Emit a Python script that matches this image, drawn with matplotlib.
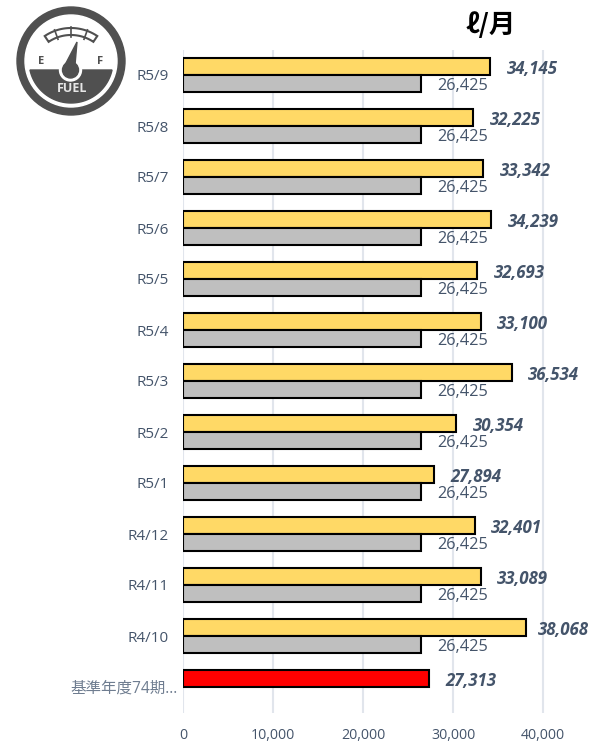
import matplotlib
matplotlib.use('Agg')
import matplotlib.pyplot as plt
import numpy as np
from matplotlib.patches import Circle, Polygon

months = ['R5/9', 'R5/8', 'R5/7', 'R5/6', 'R5/5', 'R5/4', 'R5/3', 'R5/2', 'R5/1',
          'R4/12', 'R4/11', 'R4/10']
base_label = '基準年度74期...'
usage = [34145, 32225, 33342, 34239, 32693, 33100, 36534, 30354, 27894, 32401, 33089, 38068]
target = [26425] * 12
base_usage = 27313

TEXT = '#44546A'
FONT = ['Open Sans', 'Noto Sans CJK JP', 'DejaVu Sans']
plt.rcParams['font.family'] = FONT

W, H = 590, 750
fig = plt.figure(figsize=(W / 100, H / 100), dpi=100)
ax = fig.add_axes([183 / W, 1 - 712.5 / H, (590 - 183) / W, 663 / H])

pos = np.arange(len(months))
ax.barh(pos - 1 / 6, usage, height=1 / 3, color='#FFD966', edgecolor='black', linewidth=1.5, zorder=3)
ax.barh(pos + 1 / 6, target, height=1 / 3, color='#BFBFBF', edgecolor='black', linewidth=1.5, zorder=3)
ax.barh(len(months) - 1 / 6, base_usage, height=1 / 3, color='#FF0000', edgecolor='black', linewidth=1.5, zorder=3)

ax.set_ylim(len(months) + 0.5, -0.5)
ax.set_xlim(0, 407 / 90 * 10000)
ax.set_xticks([0, 10000, 20000, 30000, 40000])
ax.set_xticklabels(['0', '10,000', '20,000', '30,000', '40,000'], fontsize=10.2, color=TEXT)
ax.set_yticks(np.arange(len(months) + 1))
ax.set_yticklabels(months + [base_label], fontsize=11, color=TEXT)
ax.get_yticklabels()[-1].set_color('#6F7D90')
ax.get_yticklabels()[-1].set_fontsize(11.2)
ax.tick_params(length=0)
ax.tick_params(axis='x', pad=11)
ax.tick_params(axis='y', pad=10)
ax.yaxis.get_major_ticks()[-1].set_pad(4)
ax.grid(axis='x', color='#E1E5EC', linewidth=1.5, zorder=0)
ax.set_axisbelow(True)
for s in ax.spines.values():
    s.set_visible(False)

for i, v in enumerate(usage):
    # the longest bar's label sits closer so it stays inside the picture
    dx = 8.6 if v == max(usage) else 11.8
    ax.annotate(f'{v:,}', (v, i - 1 / 6), xytext=(dx, -2), textcoords='offset points', va='center',
                fontsize=12.2, fontweight='bold', fontstyle='italic', color=TEXT, zorder=5)
for i, v in enumerate(target):
    ax.annotate(f'{v:,}', (v, i + 1 / 6), xytext=(11.5, -2), textcoords='offset points', va='center',
                fontsize=11.8, color=TEXT, zorder=5)
ax.annotate(f'{base_usage:,}', (base_usage, len(months) - 1 / 6), xytext=(11.8, -2), textcoords='offset points',
            va='center', fontsize=12.2, fontweight='bold', fontstyle='italic', color=TEXT, zorder=5)

fig.text(491 / W, 1 - 25 / H, 'ℓ/月', ha='center', va='center', fontsize=19, fontweight='bold',
         color='black', family=['Noto Sans CJK JP', 'DejaVu Sans'])

# fuel gauge icon, in pixel coordinates of the figure
GRAY = '#505050'
icon = fig.add_axes([0, 1 - 130 / H, 130 / W, 130 / H])
icon.set_xlim(0, 130)
icon.set_ylim(130, 0)
icon.axis('off')
cx, cy = 71, 61
icon.add_patch(Circle((cx, cy), 54, color=GRAY))
icon.add_patch(Circle((cx, cy), 46, color='white'))
# lower dark part of the dial, cut flat at y=70
a0 = np.arcsin(9 / 42)
t = np.linspace(a0, np.pi - a0, 60)
icon.add_patch(Polygon(np.column_stack([cx + 42 * np.cos(t), cy + 42 * np.sin(t)]), color=GRAY))
# scale band
ac, ar_o, ar_i = 75, 47, 40
t = np.radians(np.linspace(236, 304, 40))
band = np.vstack([np.column_stack([cx + ar_o * np.cos(t), ac + ar_o * np.sin(t)]),
                  np.column_stack([cx + ar_i * np.cos(t[::-1]), ac + ar_i * np.sin(t[::-1])])])
icon.add_patch(Polygon(band, closed=True, facecolor='white', edgecolor=GRAY, linewidth=1.5))
for a in [250, 270, 290]:
    a = np.radians(a)
    icon.plot([cx + (ar_i - 2) * np.cos(a), cx + (ar_o + 1) * np.cos(a)],
              [ac + (ar_i - 2) * np.sin(a), ac + (ar_o + 1) * np.sin(a)], color=GRAY, lw=1.2)
# needle and hub
icon.add_patch(Circle((70.5, 70), 11, color='white'))
icon.add_patch(Circle((70.5, 70), 8, color=GRAY))
icon.add_patch(Polygon([(65, 65), (75, 65), (77, 42)], color=GRAY))
icon.text(41, 62, 'E', ha='center', va='center', fontsize=8, fontweight='bold', color=GRAY, family='Open Sans')
icon.text(100, 62, 'F', ha='center', va='center', fontsize=8, fontweight='bold', color=GRAY, family='Open Sans')
icon.text(72, 89, 'FUEL', ha='center', va='center', fontsize=9, fontweight='bold', color='#E6E6E6', family='Open Sans')

fig.savefig('out.png', dpi=100)
